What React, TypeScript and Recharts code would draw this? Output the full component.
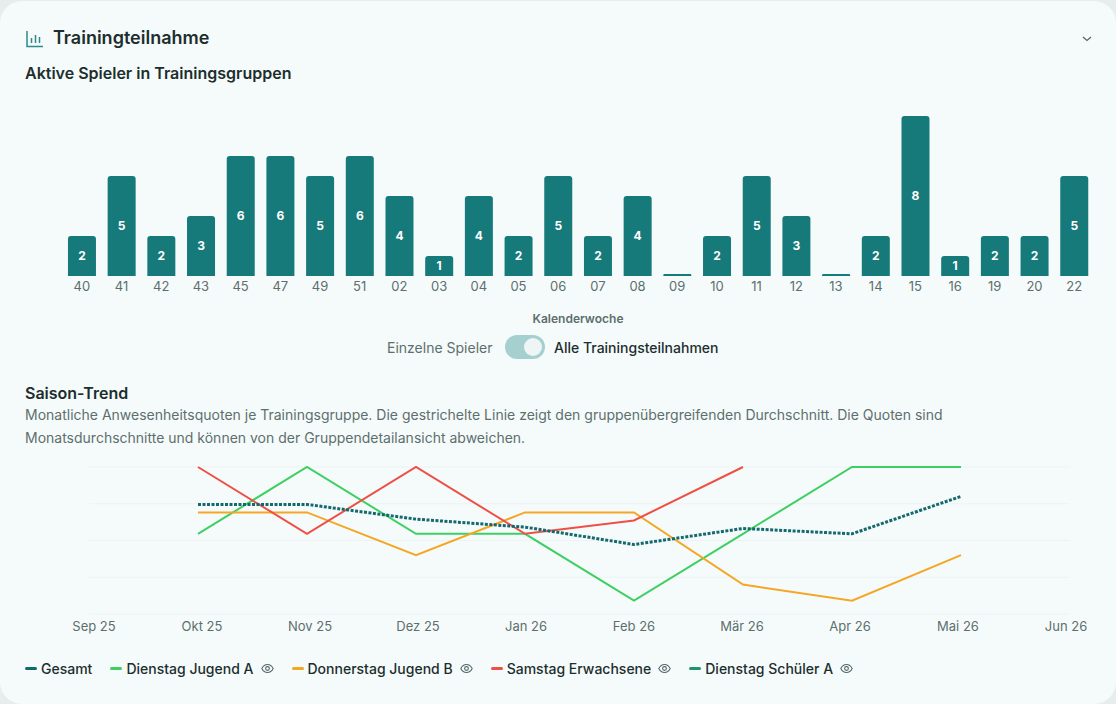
import React from "react";
import {
  BarChart,
  Bar,
  LabelList,
  LineChart,
  Line,
  XAxis,
  YAxis,
  CartesianGrid,
} from "recharts";

const weeks = ["40", "41", "42", "43", "45", "47", "49", "51", "02", "03", "04", "05", "06", "07", "08", "09", "10", "11", "12", "13", "14", "15", "16", "19", "20", "22"];
const weekCounts = [2, 5, 2, 3, 6, 6, 5, 6, 4, 1, 4, 2, 5, 2, 4, 0, 2, 5, 3, 0, 2, 8, 1, 2, 2, 5];
const countTicks = [0, 2, 4, 6, 8];

const months = ["Sep 25", "Okt 25", "Nov 25", "Dez 25", "Jan 26", "Feb 26", "Mär 26", "Apr 26", "Mai 26", "Jun 26"];
const gesamt = [null, 86, 86, 80.5, 77.5, 71, 77, 75, 89, null];
const jugendA = [null, 75, 100, 75, 75, 50, 75, 100, 100, null];
const jugendB = [null, 83, 83, 67, 83, 83, 56, 50, 67, null];
const erwachsene = [null, 100, 75, 100, 75, 80, 100, null, null, null];
const schuelerA = [null, null, null, null, null, null, null, null, null, null];
const rateTicks = [45, 58.75, 72.5, 86.25, 100];
const rateLabels = ["45 %", "59 %", "72 %", "86 %", "100 %"];

const legendItems = [
  { name: "Gesamt", color: "#14696e", eye: false },
  { name: "Dienstag Jugend A", color: "#3ecf63", eye: true },
  { name: "Donnerstag Jugend B", color: "#f5a623", eye: true },
  { name: "Samstag Erwachsene", color: "#ef4f45", eye: true },
  { name: "Dienstag Schüler A", color: "#22936f", eye: true },
];

const barData = weeks.map((week, i) => ({ week, count: weekCounts[i] }));
const trendData = months.map((month, i) => ({
  month,
  gesamt: gesamt[i],
  jugendA: jugendA[i],
  jugendB: jugendB[i],
  erwachsene: erwachsene[i],
  schuelerA: schuelerA[i],
}));

const FONT = "Inter, sans-serif";
const DARK = "#1c2e2d";
const MUTED = "#5d6f6d";
const TEAL = "#16797a";

function Eye() {
  return (
    <svg width="13" height="13" viewBox="0 0 24 24" fill="none" stroke="#55676a" strokeWidth="2" style={{ marginLeft: 7 }}>
      <path d="M1.5 12C4 7 7.5 4.5 12 4.5S20 7 22.5 12C20 17 16.5 19.5 12 19.5S4 17 1.5 12Z" />
      <circle cx="12" cy="12" r="3.5" />
    </svg>
  );
}

function Text({ x, y, size, weight = 400, color = DARK, children }: any) {
  return (
    <div
      style={{
        position: "absolute",
        left: x,
        top: y,
        fontSize: size,
        fontWeight: weight,
        color,
        lineHeight: "20px",
        whiteSpace: "nowrap",
      }}
    >
      {children}
    </div>
  );
}

export default function App() {
  return (
    <div style={{ position: "absolute", left: 0, top: 0, width: 1116, height: 704, background: "#e7ecec", overflow: "hidden", fontFamily: FONT }}>
      <div style={{ position: "absolute", left: 0, top: 1, width: 1116, height: 703, background: "#f5fbfb", borderRadius: 22 }} />

      {/* Header */}
      <svg width="20" height="20" viewBox="0 0 20 20" style={{ position: "absolute", left: 25, top: 29 }} fill="none" stroke="#2b8a8c" strokeWidth="1.5">
        <path d="M2 2V17.5H18" />
        <path d="M6.5 9V14M10.5 6V14M14.5 8V14" />
      </svg>
      <Text x={53} y={28} size={18} weight={600}>Trainingteilnahme</Text>
      <svg width="10" height="6" viewBox="0 0 10 6" style={{ position: "absolute", left: 1082, top: 36 }} fill="none" stroke="#55676a" strokeWidth="1.3">
        <path d="M1 1L5 4.5L9 1" />
      </svg>

      <Text x={25} y={63} size={16} weight={600}>Aktive Spieler in Trainingsgruppen</Text>

      {/* Weekly bars */}
      <div style={{ position: "absolute", left: 0, top: 0 }}>
        <BarChart
          width={1116}
          height={330}
          data={barData}
          barCategoryGap="15%"
          margin={{ top: 96, right: 22, bottom: 0, left: 22 }}
        >
          <XAxis
            dataKey="week"
            interval={0}
            height={54}
            axisLine={false}
            tickLine={false}
            tickSize={0}
            tickMargin={6}
            tick={{ fontSize: 13, fill: MUTED, fontFamily: FONT }}
            label={{ value: "Kalenderwoche", position: "insideBottom", offset: 7, fontSize: 12, fontWeight: 600, fill: MUTED, fontFamily: FONT }}
          />
          <YAxis yAxisId="bars" hide domain={[0, 9]} />
          <YAxis
            yAxisId="labels"
            width={40}
            domain={[-0.333, 8.238]}
            ticks={countTicks}
            interval={0}
            axisLine={false}
            tickLine={false}
            tickSize={0}
            tickMargin={1}
            tick={{ fontSize: 13, fill: MUTED, fontFamily: FONT }}
          />
          <Bar yAxisId="bars" dataKey="count" fill={TEAL} radius={[3, 3, 0, 0]} minPointSize={2} isAnimationActive={false}>
            <LabelList
              dataKey="count"
              position="center"
              formatter={(v: any) => (v ? v : "")}
              style={{ fill: "#ffffff", fontSize: 12, fontWeight: 700, fontFamily: FONT }}
            />
          </Bar>
        </BarChart>
      </div>

      {/* Toggle */}
      <Text x={387} y={338} size={14} color={MUTED}>Einzelne Spieler</Text>
      <div style={{ position: "absolute", left: 505, top: 335, width: 40, height: 24, borderRadius: 12, background: "#a6cfcf" }}>
        <div style={{ position: "absolute", left: 19, top: 3, width: 18, height: 18, borderRadius: 9, background: "#eef5f4" }} />
      </div>
      <Text x={554} y={338} size={14} weight={500}>Alle Trainingsteilnahmen</Text>

      {/* Trend */}
      <Text x={25} y={383} size={16} weight={600}>Saison-Trend</Text>
      <Text x={25} y={405} size={14} color={MUTED}>
        Monatliche Anwesenheitsquoten je Trainingsgruppe. Die gestrichelte Linie zeigt den gruppenübergreifenden Durchschnitt. Die Quoten sind
      </Text>
      <Text x={25} y={428} size={14} color={MUTED}>
        Monatsdurchschnitte und können von der Gruppendetailansicht abweichen.
      </Text>

      <div style={{ position: "absolute", left: 0, top: 440 }}>
        <LineChart
          width={1116}
          height={216}
          data={trendData}
          margin={{ top: 27, right: 46, bottom: 0, left: 29 }}
        >
          <CartesianGrid xAxisId="lines" yAxisId="lines" vertical={false} stroke="#edf3f3" />
          <XAxis xAxisId="lines" dataKey="month" hide />
          <XAxis
            xAxisId="labels"
            dataKey="month"
            interval={0}
            height={42}
            padding={{ left: 5, right: 4 }}
            axisLine={false}
            tickLine={false}
            tickSize={0}
            tickMargin={8}
            tick={{ fontSize: 13, fill: MUTED, fontFamily: FONT }}
          />
          <YAxis yAxisId="lines" hide domain={[45, 100]} ticks={rateTicks} />
          <YAxis
            yAxisId="labels"
            width={60}
            domain={[45, 101.15]}
            ticks={rateTicks}
            interval={0}
            axisLine={false}
            tickLine={false}
            tickSize={0}
            tickMargin={25}
            tickFormatter={(_: any, i: number) => rateLabels[i]}
            tick={{ fontSize: 13, fill: MUTED, fontFamily: FONT }}
          />
          <Line xAxisId="lines" yAxisId="lines" dataKey="jugendA" stroke="#3ecf63" strokeWidth={2} dot={false} isAnimationActive={false} />
          <Line xAxisId="lines" yAxisId="lines" dataKey="jugendB" stroke="#f5a623" strokeWidth={2} dot={false} isAnimationActive={false} />
          <Line xAxisId="lines" yAxisId="lines" dataKey="erwachsene" stroke="#ef4f45" strokeWidth={2} dot={false} isAnimationActive={false} />
          <Line xAxisId="lines" yAxisId="lines" dataKey="schuelerA" stroke="#22936f" strokeWidth={2} dot={false} isAnimationActive={false} />
          <Line xAxisId="lines" yAxisId="lines" dataKey="gesamt" stroke="#14696e" strokeWidth={3} strokeDasharray="3 1.5" dot={false} isAnimationActive={false} />
        </LineChart>
      </div>

      {/* Legend */}
      <div style={{ position: "absolute", left: 25, top: 658, height: 20, display: "flex", alignItems: "center", gap: 18 }}>
        {legendItems.map((item) => (
          <div key={item.name} style={{ display: "flex", alignItems: "center" }}>
            <span style={{ width: 12, height: 3, borderRadius: 2, background: item.color, marginRight: 4 }} />
            <span style={{ fontSize: 14, fontWeight: 500, color: DARK, whiteSpace: "nowrap" }}>{item.name}</span>
            {item.eye && <Eye />}
          </div>
        ))}
      </div>
    </div>
  );
}
